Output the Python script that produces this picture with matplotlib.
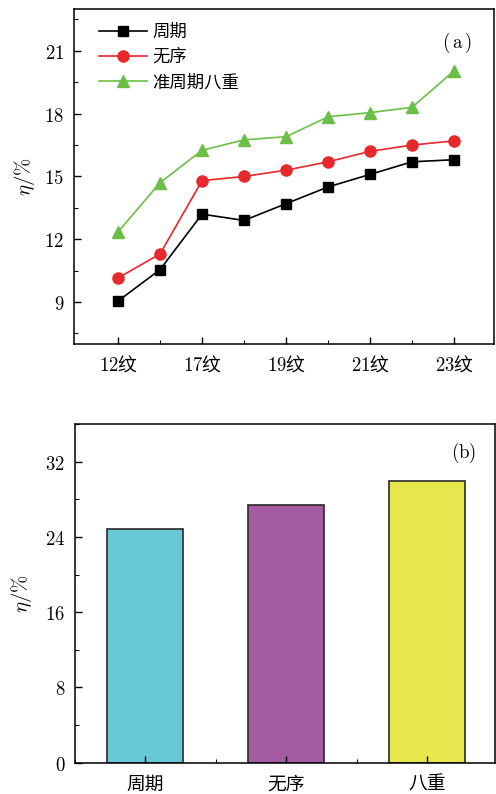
import numpy as np
import matplotlib
matplotlib.use('Agg')
import matplotlib.pyplot as plt
from matplotlib.ticker import MultipleLocator, FixedLocator, FuncFormatter

plt.rcParams['font.family'] = ['Noto Sans CJK SC', 'DejaVu Sans']
plt.rcParams['mathtext.fontset'] = 'cm'

# (a) efficiency vs. number of stripes
stripe_labels = ['12纹', '', '17纹', '', '19纹', '', '21纹', '', '23纹']
periodic = [9.05, 10.55, 13.2, 12.9, 13.7, 14.5, 15.1, 15.7, 15.8]
disorder = [10.15, 11.3, 14.8, 15.0, 15.3, 15.7, 16.2, 16.5, 16.7]
quasi8 = [12.35, 14.7, 16.25, 16.75, 16.9, 17.85, 18.05, 18.3, 20.05]

# (b) comparison
bar_labels = ['周期', '无序', '八重']
bar_values = [24.8, 27.4, 29.9]
bar_colors = ['#68C8D5', '#A55BA2', '#E8E64D']

fig = plt.figure(figsize=(4.96, 7.94), dpi=100)
ax1 = fig.add_axes([0.149, 0.5668, 0.847, 0.4219])
ax2 = fig.add_axes([0.151, 0.0394, 0.846, 0.4266])

num_fmt = FuncFormatter(lambda v, p: r'$%d$' % round(v))

x = np.arange(len(periodic))
ax1.plot(x, periodic, color='black', lw=1.2, marker='s', ms=7.5, label='周期')
ax1.plot(x, disorder, color='#E8282B', lw=1.2, marker='o', ms=8, label='无序')
ax1.plot(x, quasi8, color='#6CBF45', lw=1.2, marker='^', ms=8, label='准周期八重')
ax1.set_xlim(-1.05, 8.95)
ax1.set_ylim(7, 23)
ax1.xaxis.set_major_locator(FixedLocator([0, 2, 4, 6, 8]))
ax1.xaxis.set_minor_locator(FixedLocator([1, 3, 5, 7]))
ax1.set_xticklabels([r'$%s$' % s[:-1] + '纹' for s in stripe_labels if s])
ax1.yaxis.set_major_locator(MultipleLocator(3))
ax1.yaxis.set_minor_locator(MultipleLocator(1.5))
ax1.yaxis.set_major_formatter(num_fmt)
ax1.set_ylabel(r'$\eta/\%$', fontsize=15, labelpad=5)
ax1.legend(loc='upper left', bbox_to_anchor=(0.03, 0.995), frameon=False,
           fontsize=12.5, handlelength=2.8, borderaxespad=0.3,
           labelspacing=0.42, handletextpad=0.3)
ax1.text(0.912, 0.9, r'$(\,\mathrm{a}\,)$', transform=ax1.transAxes, fontsize=13.5,
         ha='center', va='center')

bx = np.arange(len(bar_values))
ax2.bar(bx, bar_values, width=0.54, color=bar_colors, edgecolor='#2a2a2a', lw=1.2)
ax2.set_xlim(-0.5, 2.48)
ax2.set_ylim(0, 36)
ax2.set_xticks(bx)
ax2.set_xticklabels(bar_labels)
ax2.xaxis.set_minor_locator(MultipleLocator(0.5))
ax2.yaxis.set_major_locator(MultipleLocator(8))
ax2.yaxis.set_minor_locator(MultipleLocator(4))
ax2.yaxis.set_major_formatter(num_fmt)
ax2.set_ylabel(r'$\eta/\%$', fontsize=15, labelpad=8)
ax2.text(0.925, 0.915, r'$(\mathrm{b})$', transform=ax2.transAxes, fontsize=13.5,
         ha='center', va='center')

for ax in (ax1, ax2):
    for s in ax.spines.values():
        s.set_linewidth(1.1)
    ax.tick_params(which='major', direction='in', length=5, width=1, labelsize=13.5, pad=7)
    ax.tick_params(which='minor', direction='in', length=3, width=0.8)
    ax.tick_params(axis='x', which='major', pad=8)

fig.savefig('out.png', dpi=100)
